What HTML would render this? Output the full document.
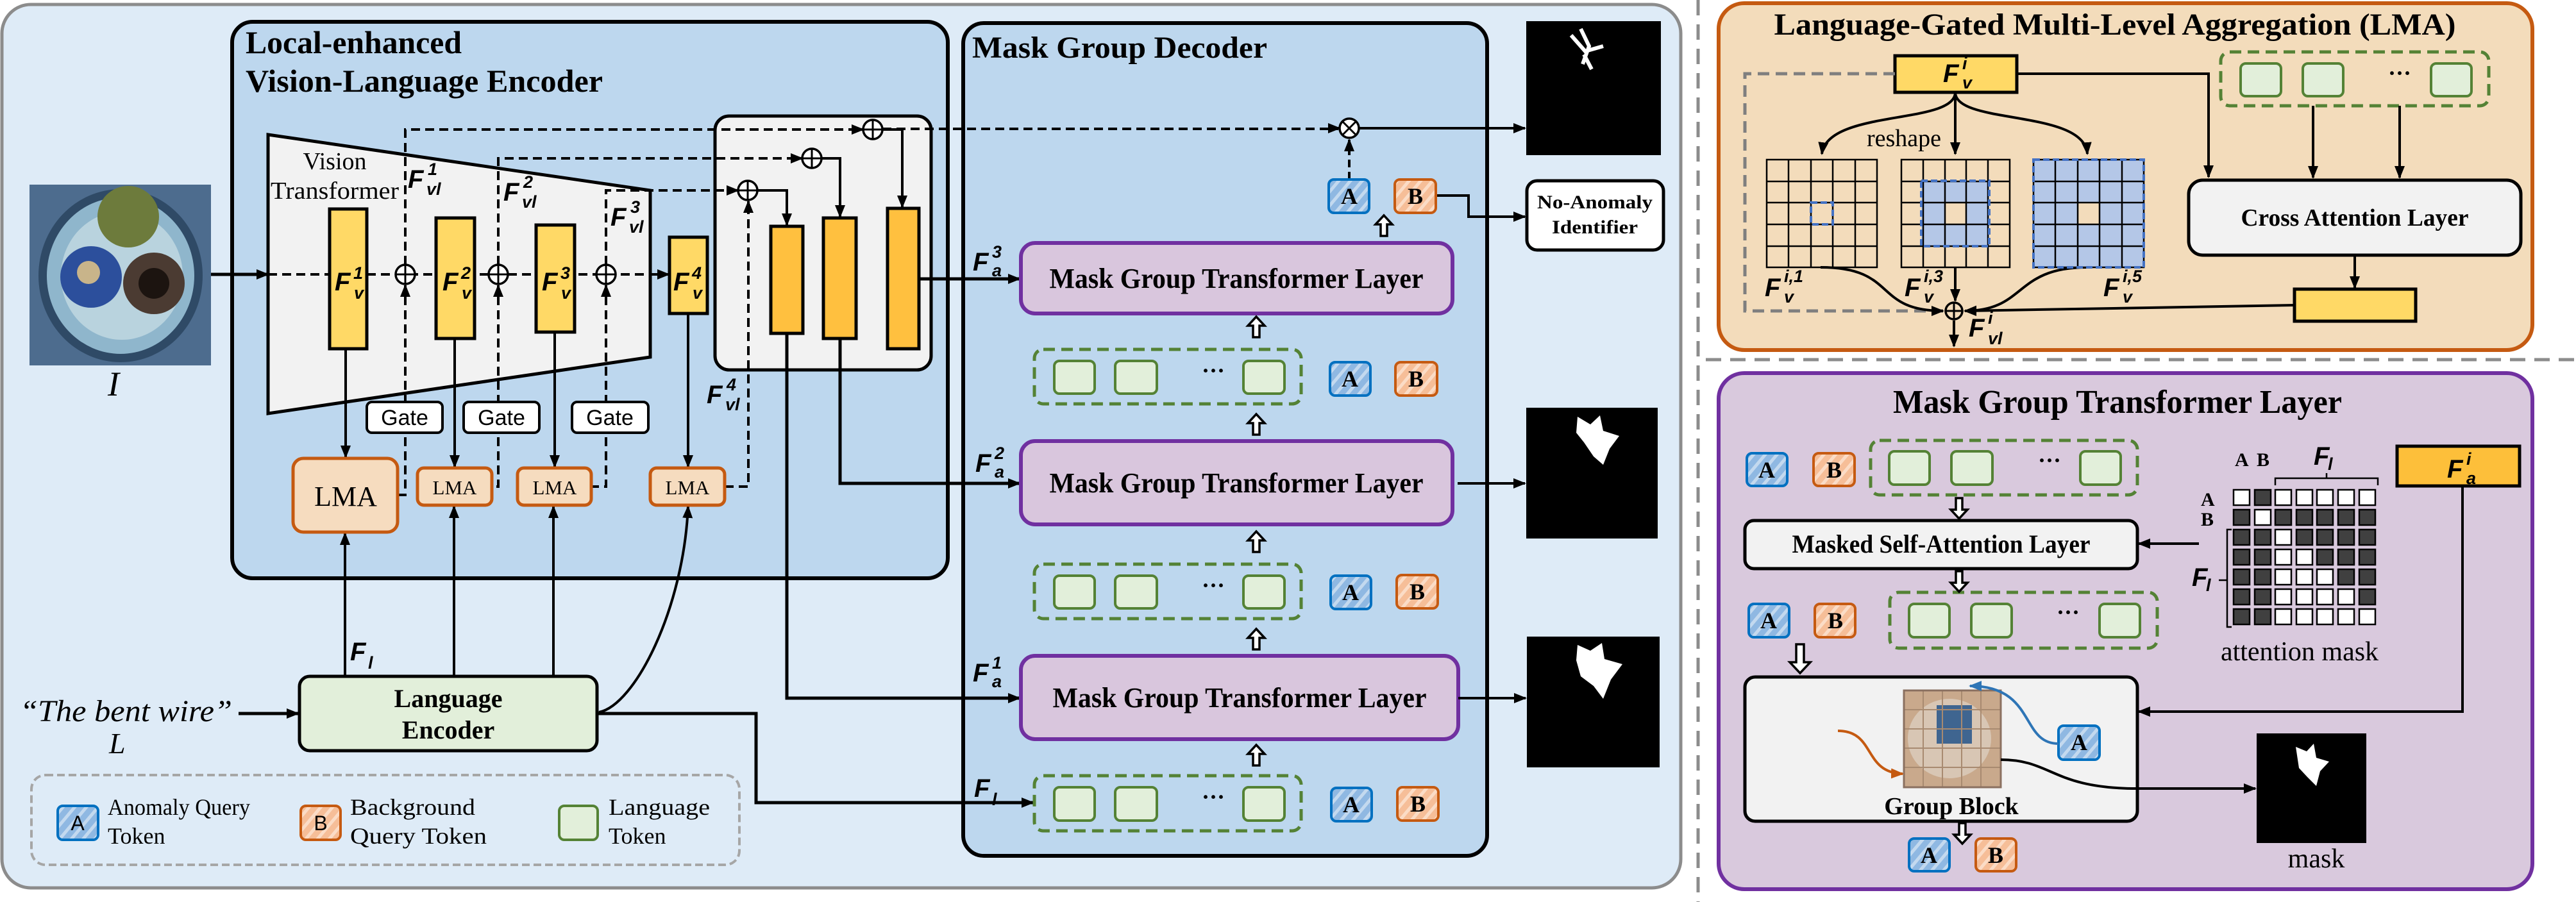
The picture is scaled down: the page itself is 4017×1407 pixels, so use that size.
<!DOCTYPE html>
<html><head><meta charset="utf-8">
<style>
html,body{margin:0;padding:0;background:#fff;}
svg{display:block;}
.sb{font-family:"Liberation Serif",serif;font-weight:bold;}
.sr{font-family:"Liberation Serif",serif;}
.F{font-family:"Liberation Sans",sans-serif;font-weight:bold;font-style:italic;font-size:40px;}
.Fs{font-family:"Liberation Sans",sans-serif;font-weight:bold;font-style:italic;font-size:27px;}
</style></head>
<body>
<svg width="4017" height="1407" viewBox="0 0 4017 1407" xmlns="http://www.w3.org/2000/svg">
<defs>
<marker id="ah" markerWidth="20" markerHeight="16" refX="18" refY="8" orient="auto" markerUnits="userSpaceOnUse"><path d="M0,0 L20,8 L0,16 z" fill="#000"/></marker>
<marker id="ahO" markerWidth="20" markerHeight="16" refX="18" refY="8" orient="auto" markerUnits="userSpaceOnUse"><path d="M0,0 L20,8 L0,16 z" fill="#c55a11"/></marker>
<marker id="ahB" markerWidth="20" markerHeight="16" refX="18" refY="8" orient="auto" markerUnits="userSpaceOnUse"><path d="M0,0 L20,8 L0,16 z" fill="#2e75b6"/></marker>
<pattern id="hA" width="14" height="14" patternUnits="userSpaceOnUse" patternTransform="rotate(40)"><rect width="14" height="14" fill="#8fb8e2"/><rect width="5" height="14" fill="#c3d9ef"/></pattern>
<pattern id="hB" width="14" height="14" patternUnits="userSpaceOnUse" patternTransform="rotate(40)"><rect width="14" height="14" fill="#f6be98"/><rect width="5" height="14" fill="#fbdcc6"/></pattern>
<path id="up" d="M0,-16 L13,-2 L5,-2 L5,16 L-5,16 L-5,-2 L-13,-2 Z" fill="#fff" stroke="#000" stroke-width="3.5"/>
<path id="dn" d="M0,16 L13,2 L5,2 L5,-16 L-5,-16 L-5,2 L-13,2 Z" fill="#fff" stroke="#000" stroke-width="3.5"/>
</defs>

<rect x="3" y="7" width="2618" height="1378" rx="45" fill="#deebf7" stroke="#8c8c8c" stroke-width="5"/>

<line x1="2648" y1="0" x2="2648" y2="1407" stroke="#8c8c8c" stroke-width="5" stroke-dasharray="24,14"/>
<line x1="2660" y1="561" x2="4017" y2="561" stroke="#8c8c8c" stroke-width="5" stroke-dasharray="24,14"/>

<rect x="362" y="34" width="1116" height="868" rx="32" fill="#bdd7ee" stroke="#000" stroke-width="6"/>
<text class="sb" x="383" y="83" font-size="50" textLength="337" lengthAdjust="spacingAndGlyphs">Local-enhanced</text>
<text class="sb" x="383" y="143" font-size="50" textLength="557" lengthAdjust="spacingAndGlyphs">Vision-Language Encoder</text>

<rect x="1502" y="36" width="817" height="1299" rx="32" fill="#bdd7ee" stroke="#000" stroke-width="6"/>
<text class="sb" x="1516" y="90" font-size="48" textLength="460" lengthAdjust="spacingAndGlyphs">Mask Group Decoder</text>

<rect x="46" y="288" width="283" height="282" fill="#4d6c8e"/>
<ellipse cx="188" cy="430" rx="128" ry="135" fill="#2f4a66"/>
<ellipse cx="188" cy="430" rx="115" ry="122" fill="#8fb6cc"/>
<ellipse cx="190" cy="430" rx="95" ry="100" fill="#b9d3de"/>
<circle cx="200" cy="338" r="48" fill="#6d7b3c"/>
<circle cx="142" cy="432" r="48" fill="#2c4f9c"/>
<circle cx="240" cy="442" r="48" fill="#4b3b32"/>
<circle cx="240" cy="442" r="24" fill="#1c1410"/>
<circle cx="138" cy="425" r="18" fill="#c8b48a"/>
<text class="sr" x="168" y="617" font-size="54" font-style="italic">I</text>

<polygon points="418,210 1014,297 1014,557 418,645" fill="#f2f2f2" stroke="#000" stroke-width="5"/>
<text class="sr" x="522" y="264" font-size="38" text-anchor="middle">Vision</text>
<text class="sr" x="522" y="310" font-size="38" text-anchor="middle" textLength="200" lengthAdjust="spacingAndGlyphs">Transformer</text>

<rect x="1115" y="181" width="337" height="396" rx="22" fill="#f2f2f2" stroke="#000" stroke-width="5"/>

<line x1="329" y1="428" x2="418" y2="428" stroke="#000" stroke-width="5" marker-end="url(#ah)"/>
<line x1="418" y1="428" x2="1043" y2="428" stroke="#000" stroke-width="4" stroke-dasharray="14,8" marker-end="url(#ah)"/>

<g fill="none" stroke="#000" stroke-width="4" stroke-dasharray="14,8">
<path d="M632,413 V202 H1344"/>
<path d="M777,413 V247 H1249"/>
<path d="M945,413 V297 H1149"/>
<path d="M632,462 V772 H620"/>
<path d="M777,462 V759 H767"/>
<path d="M945,462 V759 H922"/>
<path d="M1130,759 H1167 V316"/>
<path d="M1376,201 H2087"/>
</g>
<g fill="none" stroke="#000" stroke-width="4">
<line x1="632" y1="470" x2="632" y2="445" marker-end="url(#ah)"/>
<line x1="777" y1="470" x2="777" y2="445" marker-end="url(#ah)"/>
<line x1="945" y1="470" x2="945" y2="445" marker-end="url(#ah)"/>
<line x1="1167" y1="330" x2="1167" y2="314" marker-end="url(#ah)"/>
<line x1="1330" y1="202" x2="1346" y2="202" marker-end="url(#ah)"/>
<line x1="1235" y1="247" x2="1251" y2="247" marker-end="url(#ah)"/>
<line x1="1135" y1="297" x2="1151" y2="297" marker-end="url(#ah)"/>
<line x1="2075" y1="200" x2="2089" y2="200" marker-end="url(#ah)"/>
<path d="M1181,297 H1227 V351" marker-end="url(#ah)"/>
<path d="M1281,247 H1310 V338" marker-end="url(#ah)"/>
<path d="M1376,202 H1407 V323" marker-end="url(#ah)"/>
</g>
<g fill="#fff" stroke="#000" stroke-width="3.5">
<circle cx="632" cy="428" r="15"/><circle cx="777" cy="428" r="15"/><circle cx="945" cy="428" r="15"/>
<circle cx="1166" cy="297" r="15"/><circle cx="1266" cy="247" r="15"/><circle cx="1361" cy="202" r="15"/>
</g>
<path d="M617,428h30M632,413v30M762,428h30M777,413v30M930,428h30M945,413v30M1151,297h30M1166,282v30M1251,247h30M1266,232v30M1346,202h30M1361,187v30" stroke="#000" stroke-width="3"/>

<g fill="#ffd966" stroke="#000" stroke-width="5">
<rect x="514" y="326" width="58" height="218"/>
<rect x="680" y="340" width="60" height="188"/>
<rect x="836" y="351" width="60" height="167"/>
<rect x="1044" y="370" width="59" height="119"/>
</g>
<g fill="#ffc03f" stroke="#000" stroke-width="5">
<rect x="1202" y="353" width="50" height="167"/>
<rect x="1284" y="340" width="51" height="188"/>
<rect x="1384" y="325" width="49" height="219"/>
</g>
<text class="F" x="522" y="453">F</text><text class="Fs" x="551" y="435">1</text><text class="Fs" x="552" y="466">v</text>
<text class="F" x="690" y="453">F</text><text class="Fs" x="719" y="435">2</text><text class="Fs" x="720" y="466">v</text>
<text class="F" x="845" y="453">F</text><text class="Fs" x="874" y="435">3</text><text class="Fs" x="875" y="466">v</text>
<text class="F" x="1050" y="453">F</text><text class="Fs" x="1079" y="435">4</text><text class="Fs" x="1080" y="466">v</text>

<text class="F" x="636" y="293">F</text><text class="Fs" x="667" y="273">1</text><text class="Fs" x="665" y="304">vl</text>
<text class="F" x="785" y="313">F</text><text class="Fs" x="816" y="293">2</text><text class="Fs" x="814" y="324">vl</text>
<text class="F" x="952" y="352">F</text><text class="Fs" x="983" y="332">3</text><text class="Fs" x="981" y="363">vl</text>
<text class="F" x="1102" y="629">F</text><text class="Fs" x="1133" y="609">4</text><text class="Fs" x="1131" y="640">vl</text>

<g stroke="#000" stroke-width="4" fill="none">
<line x1="539" y1="544" x2="539" y2="713" marker-end="url(#ah)"/>
<line x1="709" y1="528" x2="709" y2="728" marker-end="url(#ah)"/>
<line x1="865" y1="518" x2="865" y2="728" marker-end="url(#ah)"/>
<line x1="1073" y1="489" x2="1073" y2="728" marker-end="url(#ah)"/>
<line x1="538" y1="1055" x2="538" y2="832" marker-end="url(#ah)"/>
<line x1="708" y1="1055" x2="708" y2="790" marker-end="url(#ah)"/>
<line x1="863" y1="1055" x2="863" y2="790" marker-end="url(#ah)"/>
<path d="M934,1111 C990,1100 1066,950 1073,790" marker-end="url(#ah)"/>
</g>
<g fill="#fff" stroke="#000" stroke-width="4">
<rect x="572" y="627" width="118" height="48" rx="8"/>
<rect x="723" y="627" width="118" height="48" rx="8"/>
<rect x="892" y="627" width="119" height="48" rx="8"/>
</g>
<g font-family="Liberation Sans, sans-serif" font-size="34" text-anchor="middle">
<text x="631" y="663">Gate</text><text x="782" y="663">Gate</text><text x="951" y="663">Gate</text>
</g>
<g fill="#f6dcbf" stroke="#c55a11" stroke-width="5">
<rect x="457" y="715" width="163" height="115" rx="16"/>
<rect x="651" y="730" width="116" height="58" rx="10"/>
<rect x="807" y="730" width="115" height="58" rx="10"/>
<rect x="1014" y="730" width="116" height="58" rx="10"/>
</g>
<g class="sr" text-anchor="middle">
<text x="539" y="789" font-size="44">LMA</text>
<text x="709" y="771" font-size="31">LMA</text>
<text x="865" y="771" font-size="31">LMA</text>
<text x="1072" y="771" font-size="31">LMA</text>
</g>

<g stroke="#000" stroke-width="5" fill="none">
<line x1="1433" y1="435" x2="1590" y2="435" marker-end="url(#ah)"/>
<path d="M1310,528 V754 H1590" marker-end="url(#ah)"/>
<path d="M1227,520 V1089 H1590" marker-end="url(#ah)"/>
<line x1="372" y1="1113" x2="465" y2="1113" marker-end="url(#ah)"/>
<path d="M931,1113 H1179 V1252 H1611" marker-end="url(#ah)"/>
</g>

<rect x="467" y="1055" width="464" height="116" rx="16" fill="#e2efda" stroke="#000" stroke-width="5"/>
<text class="sb" x="699" y="1103" font-size="40" text-anchor="middle">Language</text>
<text class="sb" x="699" y="1152" font-size="40" text-anchor="middle">Encoder</text>
<text class="F" x="546" y="1030">F</text><text class="Fs" x="574" y="1043">l</text>
<text class="sr" x="31" y="1125" font-size="48" font-style="italic" textLength="331" lengthAdjust="spacingAndGlyphs">“The bent wire”</text>
<text class="sr" x="170" y="1175" font-size="46" font-style="italic">L</text>

<rect x="49" y="1209" width="1104" height="140" rx="22" fill="none" stroke="#a6a6a6" stroke-width="4" stroke-dasharray="12,6"/>
<rect x="90" y="1257" width="63" height="53" rx="8" fill="url(#hA)" stroke="#0070c0" stroke-width="4"/>
<text x="121" y="1295" font-family="Liberation Sans, sans-serif" font-size="32" text-anchor="middle">A</text>
<text class="sr" x="168" y="1271" font-size="36" textLength="222" lengthAdjust="spacingAndGlyphs">Anomaly Query</text>
<text class="sr" x="168" y="1316" font-size="36">Token</text>
<rect x="469" y="1257" width="62" height="53" rx="8" fill="url(#hB)" stroke="#c55a11" stroke-width="4"/>
<text x="500" y="1295" font-family="Liberation Sans, sans-serif" font-size="32" text-anchor="middle">B</text>
<text class="sr" x="546" y="1271" font-size="36" textLength="195" lengthAdjust="spacingAndGlyphs">Background</text>
<text class="sr" x="546" y="1316" font-size="36" textLength="213" lengthAdjust="spacingAndGlyphs">Query Token</text>
<rect x="872" y="1257" width="60" height="53" rx="8" fill="#e2efda" stroke="#548235" stroke-width="4"/>
<text class="sr" x="949" y="1271" font-size="36" textLength="158" lengthAdjust="spacingAndGlyphs">Language</text>
<text class="sr" x="949" y="1316" font-size="36">Token</text>

<circle cx="2104" cy="200" r="15" fill="#fff" stroke="#000" stroke-width="3.5"/>
<path d="M2093,189 L2115,211 M2115,189 L2093,211" stroke="#000" stroke-width="3"/>
<line x1="2119" y1="200" x2="2378" y2="200" stroke="#000" stroke-width="4" marker-end="url(#ah)"/>
<line x1="2104" y1="280" x2="2104" y2="218" stroke="#000" stroke-width="4" stroke-dasharray="12,7" marker-end="url(#ah)"/>
<path d="M2239,305 H2290 V338 H2378" stroke="#000" stroke-width="4" fill="none" marker-end="url(#ah)"/>
<rect x="2381" y="282" width="213" height="108" rx="16" fill="#fff" stroke="#000" stroke-width="5"/>
<text class="sb" x="2487" y="325" font-size="30" text-anchor="middle" textLength="180" lengthAdjust="spacingAndGlyphs">No-Anomaly</text>
<text class="sb" x="2487" y="364" font-size="30" text-anchor="middle" textLength="134" lengthAdjust="spacingAndGlyphs">Identifier</text>

<rect x="2380" y="33" width="210" height="209" fill="#000"/>
<path d="M2465,45 L2478,72 L2468,100 M2450,55 L2472,80 L2500,72 M2470,85 L2482,108" stroke="#fff" stroke-width="6" fill="none"/>
<rect x="2380" y="636" width="205" height="204" fill="#000"/>
<path d="M2460,650 L2480,662 L2495,648 L2500,672 L2525,680 L2510,700 L2500,725 L2485,712 L2470,690 L2458,675 Z" fill="#fff"/>
<rect x="2381" y="993" width="207" height="204" fill="#000"/>
<path d="M2460,1006 L2480,1015 L2498,1003 L2502,1028 L2530,1036 L2512,1060 L2500,1090 L2485,1070 L2465,1055 L2458,1030 Z" fill="#fff"/>

<rect x="2072" y="280" width="63" height="52" rx="8" fill="url(#hA)" stroke="#0070c0" stroke-width="4"/>
<text class="sb" x="2104" y="318" font-size="36" text-anchor="middle">A</text>
<rect x="2175" y="280" width="64" height="52" rx="8" fill="url(#hB)" stroke="#c55a11" stroke-width="4"/>
<text class="sb" x="2207" y="318" font-size="36" text-anchor="middle">B</text>
<use href="#up" x="2158" y="352"/>

<g fill="#d9c6dd" stroke="#7030a0" stroke-width="6">
<rect x="1592" y="379" width="673" height="110" rx="22"/>
<rect x="1592" y="688" width="673" height="130" rx="22"/>
<rect x="1592" y="1023" width="682" height="130" rx="22"/>
</g>
<g class="sb" font-size="44" text-anchor="middle">
<text x="1928" y="449" textLength="583" lengthAdjust="spacingAndGlyphs">Mask Group Transformer Layer</text>
<text x="1928" y="768" textLength="583" lengthAdjust="spacingAndGlyphs">Mask Group Transformer Layer</text>
<text x="1933" y="1103" textLength="583" lengthAdjust="spacingAndGlyphs">Mask Group Transformer Layer</text>
</g>
<line x1="2273" y1="754" x2="2378" y2="754" stroke="#000" stroke-width="4" marker-end="url(#ah)"/>
<line x1="2274" y1="1089" x2="2379" y2="1089" stroke="#000" stroke-width="4" marker-end="url(#ah)"/>
<text class="F" x="1517" y="422">F</text><text class="Fs" x="1547" y="402">3</text><text class="Fs" x="1547" y="431">a</text>
<text class="F" x="1521" y="736">F</text><text class="Fs" x="1551" y="716">2</text><text class="Fs" x="1551" y="745">a</text>
<text class="F" x="1517" y="1063">F</text><text class="Fs" x="1547" y="1043">1</text><text class="Fs" x="1547" y="1072">a</text>
<text class="F" x="1519" y="1243">F</text><text class="Fs" x="1547" y="1256">l</text>

<use href="#up" x="1959" y="510"/>
<use href="#up" x="1959" y="662"/>
<use href="#up" x="1959" y="845"/>
<use href="#up" x="1959" y="997"/>
<use href="#up" x="1959" y="1178"/>

<g fill="none" stroke="#548235" stroke-width="5" stroke-dasharray="18,10">
<rect x="1613" y="545" width="416" height="85" rx="14"/>
<rect x="1613" y="880" width="416" height="85" rx="14"/>
<rect x="1613" y="1210" width="416" height="86" rx="14"/>
</g>
<g fill="#e2efda" stroke="#548235" stroke-width="4">
<rect x="1644" y="563" width="63" height="51" rx="8"/><rect x="1739" y="563" width="65" height="51" rx="8"/><rect x="1939" y="563" width="64" height="51" rx="8"/>
<rect x="1644" y="898" width="63" height="51" rx="8"/><rect x="1739" y="898" width="65" height="51" rx="8"/><rect x="1939" y="898" width="64" height="51" rx="8"/>
<rect x="1644" y="1228" width="63" height="52" rx="8"/><rect x="1739" y="1228" width="65" height="52" rx="8"/><rect x="1939" y="1228" width="64" height="52" rx="8"/>
</g>
<g class="sb" font-size="36" text-anchor="middle">
<text x="1892" y="590">···</text><text x="1892" y="925">···</text><text x="1892" y="1255">···</text>
</g>
<g stroke-width="4">
<rect x="2074" y="565" width="63" height="52" rx="8" fill="url(#hA)" stroke="#0070c0"/>
<rect x="2176" y="565" width="65" height="52" rx="8" fill="url(#hB)" stroke="#c55a11"/>
<rect x="2075" y="898" width="63" height="52" rx="8" fill="url(#hA)" stroke="#0070c0"/>
<rect x="2178" y="897" width="64" height="52" rx="8" fill="url(#hB)" stroke="#c55a11"/>
<rect x="2076" y="1229" width="63" height="52" rx="8" fill="url(#hA)" stroke="#0070c0"/>
<rect x="2179" y="1228" width="64" height="52" rx="8" fill="url(#hB)" stroke="#c55a11"/>
</g>
<g class="sb" font-size="36" text-anchor="middle">
<text x="2105" y="603">A</text><text x="2208" y="603">B</text>
<text x="2106" y="936">A</text><text x="2210" y="935">B</text>
<text x="2107" y="1267">A</text><text x="2211" y="1266">B</text>
</g>

<rect x="2680" y="5" width="1269" height="541" rx="40" fill="#f3dcbb" stroke="#c55a11" stroke-width="6"/>
<text class="sb" x="3298" y="54" font-size="48" text-anchor="middle" textLength="1063" lengthAdjust="spacingAndGlyphs">Language-Gated Multi-Level Aggregation (LMA)</text>
<rect x="2955" y="87" width="190" height="57" fill="#ffd966" stroke="#000" stroke-width="5"/>
<text class="F" x="3030" y="128">F</text><text class="Fs" x="3060" y="108">i</text><text class="Fs" x="3060" y="138">v</text>
<path d="M2955,115 H2721 V485 H3030" fill="none" stroke="#7f7f7f" stroke-width="5" stroke-dasharray="18,10"/>
<path d="M3145,115 H3444 V276" fill="none" stroke="#000" stroke-width="4" marker-end="url(#ah)"/>
<rect x="3463" y="81" width="418" height="84" rx="14" fill="none" stroke="#548235" stroke-width="5" stroke-dasharray="18,10"/>
<g fill="#e2efda" stroke="#548235" stroke-width="4">
<rect x="3494" y="99" width="63" height="51" rx="8"/><rect x="3591" y="99" width="63" height="51" rx="8"/><rect x="3791" y="99" width="63" height="51" rx="8"/>
</g>
<text class="sb" x="3742" y="126" font-size="36" text-anchor="middle">···</text>
<line x1="3607" y1="165" x2="3607" y2="277" stroke="#000" stroke-width="4" marker-end="url(#ah)"/>
<line x1="3742" y1="165" x2="3742" y2="277" stroke="#000" stroke-width="4" marker-end="url(#ah)"/>
<rect x="3413" y="281" width="518" height="117" rx="22" fill="#f2f2f2" stroke="#000" stroke-width="5"/>
<text class="sb" x="3672" y="352" font-size="38" text-anchor="middle" textLength="355" lengthAdjust="spacingAndGlyphs">Cross Attention Layer</text>
<line x1="3672" y1="398" x2="3672" y2="449" stroke="#000" stroke-width="4" marker-end="url(#ah)"/>
<rect x="3578" y="451" width="189" height="50" fill="#ffd966" stroke="#000" stroke-width="5"/>
<line x1="3578" y1="476" x2="3064" y2="485" stroke="#000" stroke-width="4" marker-end="url(#ah)"/>
<g fill="none" stroke="#000" stroke-width="4">
<path d="M3049,144 C3049,195 2850,170 2841,240" marker-end="url(#ah)"/>
<line x1="3049" y1="144" x2="3049" y2="240" marker-end="url(#ah)"/>
<path d="M3049,144 C3049,195 3250,170 3255,240" marker-end="url(#ah)"/>
<path d="M2839,417 C2960,417 2920,485 3030,485" marker-end="url(#ah)"/>
<line x1="3049" y1="417" x2="3049" y2="469" marker-end="url(#ah)"/>
<path d="M3255,417 C3140,417 3160,485 3064,485" marker-end="url(#ah)"/>
<line x1="3047" y1="500" x2="3047" y2="540" marker-end="url(#ah)"/>
</g>
<text class="sr" x="2969" y="228" font-size="38" text-anchor="middle">reshape</text>
<rect x="2996" y="283" width="106" height="101" fill="#b4c7e7"/>
<rect x="3034" y="316" width="33" height="34" fill="#f3dcbb"/>
<rect x="3171" y="249" width="172" height="168" fill="#b4c7e7"/>
<rect x="3240" y="316" width="34" height="34" fill="#f3dcbb"/>
<g fill="none" stroke="#000" stroke-width="2.5">
<path d="M2755,249h172v168h-172z M2789,249v168 M2824,249v168 M2858,249v168 M2893,249v168 M2755,283h172 M2755,316h172 M2755,350h172 M2755,384h172"/>
<path d="M2965,249h169v168h-169z M2999,249v168 M3033,249v168 M3066,249v168 M3100,249v168 M2965,283h169 M2965,316h169 M2965,350h169 M2965,384h169"/>
<path d="M3171,249h172v168h-172z M3205,249v168 M3240,249v168 M3274,249v168 M3309,249v168 M3171,283h172 M3171,316h172 M3171,350h172 M3171,384h172"/>
</g>
<g fill="none" stroke="#4472c4" stroke-width="4" stroke-dasharray="10,5">
<rect x="2824" y="316" width="34" height="34"/>
<rect x="2996" y="282" width="106" height="102"/>
<rect x="3171" y="249" width="172" height="168"/>
</g>
<text class="F" x="2752" y="462">F</text><text class="Fs" x="2782" y="440">i,1</text><text class="Fs" x="2782" y="472">v</text>
<text class="F" x="2970" y="462">F</text><text class="Fs" x="3000" y="440">i,3</text><text class="Fs" x="3000" y="472">v</text>
<text class="F" x="3280" y="462">F</text><text class="Fs" x="3310" y="440">i,5</text><text class="Fs" x="3310" y="472">v</text>
<circle cx="3047" cy="485" r="13" fill="none" stroke="#000" stroke-width="3.5"/>
<path d="M3034,485h26M3047,472v26" stroke="#000" stroke-width="3"/>
<text class="F" x="3070" y="525">F</text><text class="Fs" x="3100" y="505">i</text><text class="Fs" x="3100" y="537">vl</text>

<rect x="2680" y="582" width="1269" height="805" rx="40" fill="#d9c9dd" stroke="#7030a0" stroke-width="6"/>
<text class="sb" x="3302" y="644" font-size="52" text-anchor="middle" textLength="700" lengthAdjust="spacingAndGlyphs">Mask Group Transformer Layer</text>
<g stroke-width="4">
<rect x="2724" y="707" width="63" height="51" rx="8" fill="url(#hA)" stroke="#0070c0"/>
<rect x="2828" y="707" width="64" height="51" rx="8" fill="url(#hB)" stroke="#c55a11"/>
<rect x="2727" y="942" width="63" height="52" rx="8" fill="url(#hA)" stroke="#0070c0"/>
<rect x="2830" y="942" width="63" height="52" rx="8" fill="url(#hB)" stroke="#c55a11"/>
<rect x="2803" y="1113" width="63" height="51" rx="8" fill="url(#hB)" stroke="#c55a11"/>
<rect x="2977" y="1308" width="63" height="51" rx="8" fill="url(#hA)" stroke="#0070c0"/>
<rect x="3081" y="1308" width="63" height="51" rx="8" fill="url(#hB)" stroke="#c55a11"/>
</g>
<g fill="none" stroke="#548235" stroke-width="5" stroke-dasharray="18,10">
<rect x="2917" y="687" width="416" height="85" rx="14"/>
<rect x="2947" y="924" width="417" height="87" rx="14"/>
</g>
<g fill="#e2efda" stroke="#548235" stroke-width="4">
<rect x="2946" y="704" width="63" height="52" rx="8"/><rect x="3043" y="704" width="64" height="52" rx="8"/><rect x="3244" y="704" width="63" height="52" rx="8"/>
<rect x="2977" y="942" width="63" height="52" rx="8"/><rect x="3074" y="942" width="63" height="52" rx="8"/><rect x="3274" y="942" width="63" height="52" rx="8"/>
</g>
<g class="sb" font-size="36" text-anchor="middle">
<text x="3196" y="730">···</text><text x="3225" y="967">···</text>
<text x="2755" y="745">A</text><text x="2860" y="745">B</text>
<text x="2758" y="980">A</text><text x="2862" y="980">B</text>
<text x="2834" y="1151">B</text>
<text x="3008" y="1346">A</text><text x="3112" y="1346">B</text>
</g>
<use href="#dn" x="3055" y="793"/>
<rect x="2721" y="812" width="612" height="75" rx="14" fill="#f2f2f2" stroke="#000" stroke-width="5"/>
<text class="sb" x="3027" y="862" font-size="40" text-anchor="middle" textLength="465" lengthAdjust="spacingAndGlyphs">Masked Self-Attention Layer</text>
<line x1="3429" y1="848" x2="3335" y2="848" stroke="#000" stroke-width="4" marker-end="url(#ah)"/>
<use href="#dn" x="3055" y="907"/>
<path d="M2801,1005 h12 v28 h10 L2807,1050 L2791,1033 h10 z" fill="#fff" stroke="#000" stroke-width="3.5"/>

<rect x="2721" y="1056" width="612" height="225" rx="16" fill="#f2f2f2" stroke="#000" stroke-width="5"/>
<rect x="2969" y="1077" width="151" height="151" fill="#c9a98c"/>
<ellipse cx="3040" cy="1152" rx="65" ry="62" fill="#d8c6b4"/>
<rect x="3020" y="1100" width="55" height="60" fill="#3f6590"/>
<path d="M2969,1107h151M2969,1137h151M2969,1167h151M2969,1197h151M2999,1077v151M3029,1077v151M3059,1077v151M3089,1077v151" stroke="#a88a70" stroke-width="2"/>
<rect x="2969" y="1077" width="151" height="151" fill="none" stroke="#8a7060" stroke-width="3"/>
<rect x="3210" y="1132" width="64" height="53" rx="8" fill="url(#hA)" stroke="#0070c0" stroke-width="4"/>
<text class="sb" x="3242" y="1170" font-size="36" text-anchor="middle">A</text>
<path d="M2866,1140 C2925,1140 2905,1205 2967,1207" fill="none" stroke="#c55a11" stroke-width="4" marker-end="url(#ahO)"/>
<path d="M3210,1160 C3150,1160 3175,1070 3072,1070" fill="none" stroke="#2e75b6" stroke-width="4" marker-end="url(#ahB)"/>
<path d="M3120,1185 C3200,1185 3200,1230 3333,1230 L3517,1230" fill="none" stroke="#000" stroke-width="4" marker-end="url(#ah)"/>
<text class="sb" x="3043" y="1270" font-size="38" text-anchor="middle">Group Block</text>
<use href="#dn" x="3060" y="1300"/>

<rect x="3738" y="696" width="191" height="62" fill="#fdbf3a" stroke="#000" stroke-width="5"/>
<text class="F" x="3816" y="745">F</text><text class="Fs" x="3846" y="725">i</text><text class="Fs" x="3846" y="755">a</text>
<path d="M3840,758 V1110 H3335" fill="none" stroke="#000" stroke-width="4" marker-end="url(#ah)"/>

<g class="sb" font-size="30">
<text x="3485" y="727">A</text><text x="3519" y="727">B</text>
<text x="3432" y="789">A</text><text x="3432" y="820">B</text>
</g>
<text class="F" x="3608" y="725" font-size="32">F</text><text class="Fs" x="3630" y="733" font-size="22">l</text>
<text class="F" x="3418" y="914" font-size="32">F</text><text class="Fs" x="3440" y="922" font-size="22">l</text>
<path d="M3548,757 V746 H3708 V757 M3628,746 V738" fill="none" stroke="#000" stroke-width="2.5"/>
<path d="M3480,826 H3473 V978 H3480 M3473,905 H3460" fill="none" stroke="#000" stroke-width="2.5"/>
<g stroke="#000" stroke-width="2.5" fill="#fff">
<rect x="3483" y="764" width="25" height="24"/><rect x="3516" y="764" width="25" height="24" fill="#404040"/><rect x="3548" y="764" width="25" height="24"/><rect x="3581" y="764" width="25" height="24"/><rect x="3613" y="764" width="25" height="24"/><rect x="3646" y="764" width="25" height="24"/><rect x="3679" y="764" width="25" height="24"/>
<rect x="3483" y="795" width="25" height="24" fill="#404040"/><rect x="3516" y="795" width="25" height="24"/><rect x="3548" y="795" width="25" height="24" fill="#404040"/><rect x="3581" y="795" width="25" height="24" fill="#404040"/><rect x="3613" y="795" width="25" height="24" fill="#404040"/><rect x="3646" y="795" width="25" height="24" fill="#404040"/><rect x="3679" y="795" width="25" height="24" fill="#404040"/>
<rect x="3483" y="826" width="25" height="24" fill="#404040"/><rect x="3516" y="826" width="25" height="24" fill="#404040"/><rect x="3548" y="826" width="25" height="24"/><rect x="3581" y="826" width="25" height="24" fill="#404040"/><rect x="3613" y="826" width="25" height="24" fill="#404040"/><rect x="3646" y="826" width="25" height="24" fill="#404040"/><rect x="3679" y="826" width="25" height="24" fill="#404040"/>
<rect x="3483" y="857" width="25" height="24" fill="#404040"/><rect x="3516" y="857" width="25" height="24" fill="#404040"/><rect x="3548" y="857" width="25" height="24"/><rect x="3581" y="857" width="25" height="24"/><rect x="3613" y="857" width="25" height="24" fill="#404040"/><rect x="3646" y="857" width="25" height="24" fill="#404040"/><rect x="3679" y="857" width="25" height="24" fill="#404040"/>
<rect x="3483" y="888" width="25" height="24" fill="#404040"/><rect x="3516" y="888" width="25" height="24" fill="#404040"/><rect x="3548" y="888" width="25" height="24"/><rect x="3581" y="888" width="25" height="24"/><rect x="3613" y="888" width="25" height="24"/><rect x="3646" y="888" width="25" height="24" fill="#404040"/><rect x="3679" y="888" width="25" height="24" fill="#404040"/>
<rect x="3483" y="919" width="25" height="24" fill="#404040"/><rect x="3516" y="919" width="25" height="24" fill="#404040"/><rect x="3548" y="919" width="25" height="24"/><rect x="3581" y="919" width="25" height="24"/><rect x="3613" y="919" width="25" height="24"/><rect x="3646" y="919" width="25" height="24"/><rect x="3679" y="919" width="25" height="24" fill="#404040"/>
<rect x="3483" y="950" width="25" height="24" fill="#404040"/><rect x="3516" y="950" width="25" height="24" fill="#404040"/><rect x="3548" y="950" width="25" height="24"/><rect x="3581" y="950" width="25" height="24"/><rect x="3613" y="950" width="25" height="24"/><rect x="3646" y="950" width="25" height="24"/><rect x="3679" y="950" width="25" height="24"/>
</g>
<text class="sr" x="3586" y="1030" font-size="42" text-anchor="middle">attention mask</text>

<rect x="3519" y="1144" width="171" height="171" fill="#000"/>
<path d="M3580,1165 L3597,1172 L3608,1160 L3612,1182 L3632,1188 L3618,1203 L3612,1226 L3598,1212 L3585,1198 Z" fill="#fff"/>
<text class="sr" x="3612" y="1353" font-size="42" text-anchor="middle">mask</text>
</svg>
</body></html>
